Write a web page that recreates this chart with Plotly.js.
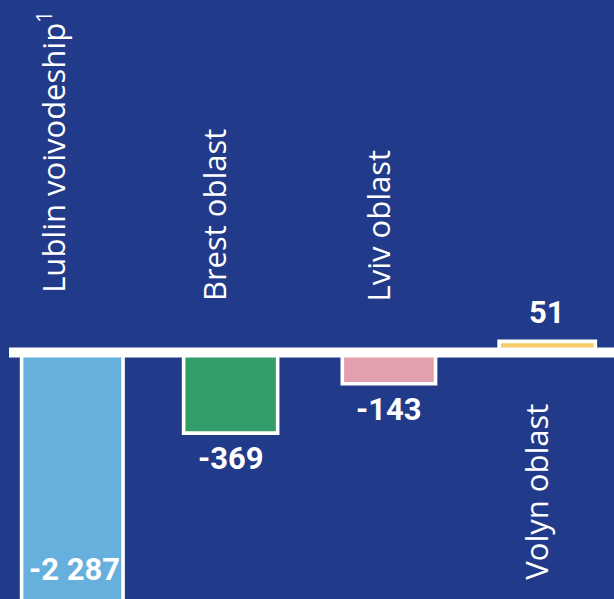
<!DOCTYPE html>
<html>
<head>
<meta charset="utf-8">
<script src="https://cdn.plot.ly/plotly-3.0.1.min.js"></script>
<style>
  html, body { margin: 0; padding: 0; background: #223a8a; }
  #chart { width: 614px; height: 599px; }
</style>
</head>
<body>
<div id="chart"></div>
<script>
// ---- data ----
const categories = ['Lublin voivodeship', 'Brest oblast', 'Lviv oblast', 'Volyn oblast'];
const footnotes = ['1', '', '', ''];
const values = [-2287, -369, -143, 51];
const colors = ['#67b0dd', '#339e6a', '#e29fad', '#f5cc66'];

// ---- styling ----
const BG = '#223a8a';
const barWidths = [0.641, 0.594, 0.589, 0.608];
const labelXShift = [-21, -16, -10, -11];
const labelYShift = [58, 49, 49, 49];
const yRange = [-1128, 1613];

function fmt(v) {
  const s = Math.abs(v).toString().replace(/\B(?=(\d{3})+(?!\d))/g, ' ');
  return (v < 0 ? '-' : '') + s;
}

const trace = {
  type: 'bar',
  x: categories,
  y: values,
  width: barWidths,
  marker: { color: colors, line: { color: '#ffffff', width: 3.6 } },
  hoverinfo: 'skip',
  cliponaxis: true
};

const annotations = [];
categories.forEach((c, i) => {
  const v = values[i];
  // category label (rotated)
  annotations.push({
    xref: 'x', yref: 'y', x: c, y: 0,
    text: c + (footnotes[i] ? '<sup>' + footnotes[i] + '</sup>' : ''),
    showarrow: false, textangle: -90,
    xanchor: 'center',
    yanchor: v >= 0 ? 'top' : 'bottom',
    xshift: labelXShift[i],
    yshift: v >= 0 ? -labelYShift[i] : labelYShift[i],
    font: { family: 'Open Sans, sans-serif', size: 31, color: '#ffffff' }
  });
  // value label
  const numFont = { family: 'Roboto, sans-serif', size: 31, color: '#ffffff', weight: 700 };
  if (v < yRange[0]) {
    annotations.push({
      xref: 'x', yref: 'paper', x: c, y: 0.05,
      text: '<b>' + fmt(v) + '</b>', showarrow: false,
      xanchor: 'center', yanchor: 'middle', xshift: 2,
      font: numFont
    });
  } else {
    annotations.push({
      xref: 'x', yref: 'y', x: c, y: v,
      text: '<b>' + fmt(v) + '</b>', showarrow: false,
      xanchor: 'center', yanchor: v >= 0 ? 'bottom' : 'top',
      yshift: v >= 0 ? 8.5 : -5,
      font: numFont
    });
  }
});

const layout = {
  width: 614, height: 599,
  margin: { l: 9, r: 0, t: 0, b: 0, pad: 0 },
  paper_bgcolor: BG, plot_bgcolor: BG,
  showlegend: false,
  xaxis: { type: 'category', range: [-0.4, 3.4217], visible: false, fixedrange: true },
  yaxis: { range: yRange, visible: false, fixedrange: true },
  shapes: [{
    type: 'line', xref: 'paper', yref: 'y', x0: 0, x1: 1, y0: 0, y1: 0,
    line: { color: '#ffffff', width: 10 }, layer: 'above'
  }],
  annotations: annotations
};

Plotly.newPlot('chart', [trace], layout, { displayModeBar: false, staticPlot: true });
</script>
</body>
</html>
